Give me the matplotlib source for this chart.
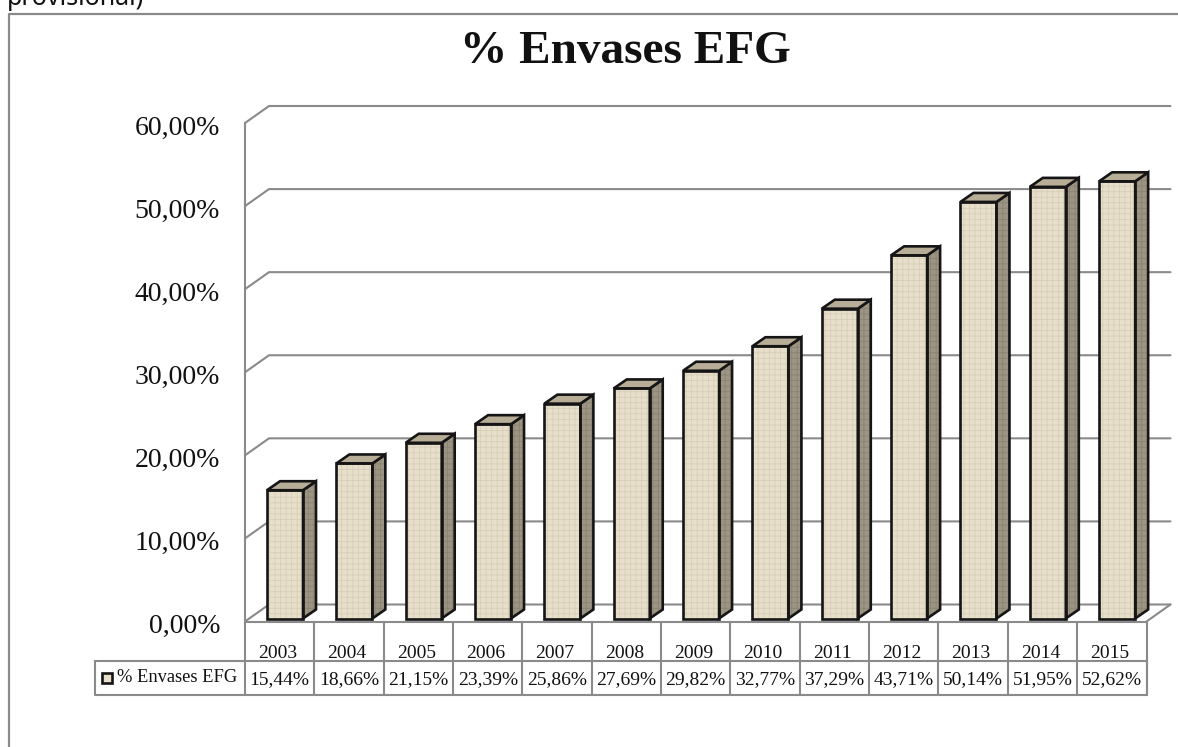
import matplotlib
matplotlib.use('Agg')
import matplotlib.pyplot as plt

# Data: % Envases EFG by year
years = ['2003', '2004', '2005', '2006', '2007', '2008', '2009',
         '2010', '2011', '2012', '2013', '2014', '2015']
values = [15.44, 18.66, 21.15, 23.39, 25.86, 27.69, 29.82,
          32.77, 37.29, 43.71, 50.14, 51.95, 52.62]
y_ticks = [0, 10, 20, 30, 40, 50, 60]
series_name = '% Envases EFG'

GREY = '#8a8a8a'
INK = '#151515'
SERIF = 'Liberation Serif'
W, H = 1178, 747

# front plane of the chart box, in pixels
left_px, right_px, zero_px, top_px = 245, 1146.5, 621.5, 123
cat_px = (right_px - left_px) / len(years)
pct_px = (zero_px - top_px) / 60


def cx(px):
    return px / cat_px


def cy(px):
    return px / pct_px


def fmt(v):
    return f'{v:.2f}%'.replace('.', ',')


plt.rcParams['hatch.linewidth'] = 0.6
fig = plt.figure(figsize=(W / 100, H / 100), dpi=100)
ax = fig.add_axes([left_px / W, 1 - zero_px / H, (right_px - left_px) / W, (zero_px - top_px) / H])
ax.set_xlim(0, len(years))
ax.set_ylim(0, 60)
ax.axis('off')

n = len(years)
wall_x, wall_y = cx(24), cy(17)
line = dict(color=GREY, lw=1.5, clip_on=False, solid_capstyle='round', solid_joinstyle='round')

# walls and gridlines
for t in y_ticks:
    ax.plot([0, wall_x, n + wall_x], [t, t + wall_y, t + wall_y], zorder=1, **line)
    ax.text(cx(-25), t - cy(5), fmt(t), ha='right', va='center', family=SERIF, fontsize=20, color='#111111')
ax.plot([0, 0], [0, 60], zorder=1, **line)
ax.plot([n + wall_x, n], [wall_y, 0], zorder=1, **line)

# bars with fake depth
bar_w = cx(36)
bar_off = cx(22)
bar_base = cy(3)
dep_x, dep_y = cx(13), cy(9)
xs = [i + bar_off + bar_w / 2 for i in range(n)]
ax.bar(xs, values, width=bar_w, bottom=bar_base, color='#e8dfcb', edgecolor='#d8cfba',
       hatch='+++', lw=0, zorder=3, clip_on=False)
ax.bar(xs, values, width=bar_w, bottom=bar_base, fill=False, edgecolor=INK, lw=1.9,
       zorder=5, clip_on=False)
for x, v in zip(xs, values):
    x0, x1 = x - bar_w / 2, x + bar_w / 2
    y0, y1 = bar_base, bar_base + v
    side_x = [x1, x1 + dep_x, x1 + dep_x, x1]
    side_y = [y0, y0 + dep_y, y1 + dep_y, y1]
    ax.fill(side_x, side_y, facecolor='#9d9583', edgecolor='#8b8373', hatch='+++', lw=0, zorder=4, clip_on=False)
    ax.fill(side_x, side_y, fill=False, edgecolor=INK, lw=1.9, zorder=4, clip_on=False)
    ax.fill([x0, x0 + dep_x, x1 + dep_x, x1], [y1, y1 + dep_y, y1 + dep_y, y1],
            facecolor='#b8ad97', edgecolor=INK, lw=1.9, zorder=4, clip_on=False)

# data table below the plot
row1, row2 = -cy(39.5), -cy(73.5)
legend_x = -cx(150)
ax.plot([0, n], [0, 0], zorder=2, **line)
ax.plot([legend_x, n, n, legend_x, legend_x], [row1, row1, row2, row2, row1], zorder=2, **line)
for i in range(n + 1):
    ax.plot([i, i], [0, row2], zorder=2, **line)
for i in range(n):
    ax.text(i + 0.47, -cy(36), years[i], ha='center', va='baseline', family=SERIF, fontsize=14, color='#111111')
    ax.text(i + 0.5, -cy(62.5), fmt(values[i]), ha='center', va='baseline', family=SERIF, fontsize=14, color='#111111')
ax.bar(legend_x + cx(12), cy(10), width=cx(10), bottom=-cy(61.5), color='#e8dfcb',
       edgecolor=INK, lw=1.9, clip_on=False, zorder=3)
ax.text(-cx(128), -cy(61), series_name, ha='left', va='baseline', family=SERIF, fontsize=13.3, color='#111111')

# outer frame, cut by the screenshot
fig.add_artist(plt.Line2D([9 / W, 9 / W, 1], [0, 1 - 13.5 / H, 1 - 13.5 / H], color=GREY, lw=1.6))

fig.text(625.5 / W, 1 - 52 / H, series_name, ha='center', va='center', family=SERIF,
         fontsize=34, fontweight='bold', color='#111111')
fig.text(7 / W, 1 - 5 / H, 'provisional)', ha='left', va='baseline', family='Noto Sans', fontsize=18, color='#111111')

fig.savefig('out.png', dpi=100)
